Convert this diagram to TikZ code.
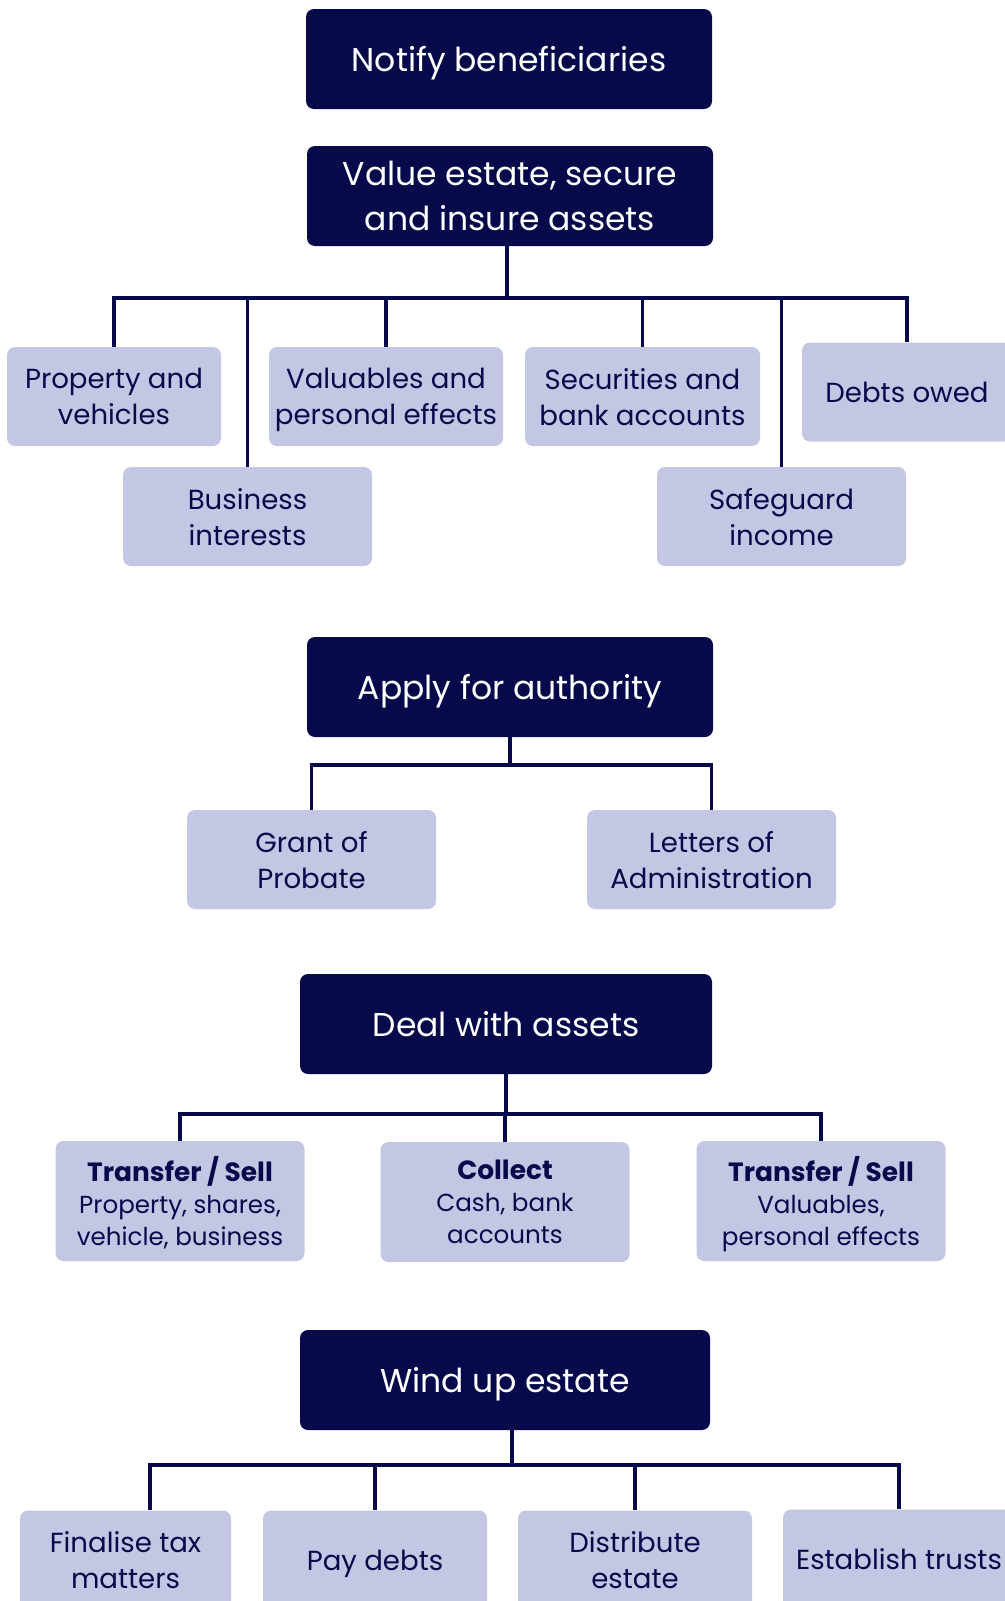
\documentclass[tikz,border=0pt]{standalone}
\usepackage{fontspec}
\setmainfont{Poppins}
\usepackage{tikz}

\definecolor{navy}{HTML}{060A4A}
\definecolor{lilac}{HTML}{C4C7E4}

\newcommand\headline[1]{{\fontsize{13.2}{17}\selectfont\bfseries #1}}

\tikzset{
  stage/.style={fill=navy, text=white, rounded corners=4pt, align=center,
    minimum width=203pt, minimum height=50pt, inner sep=0pt, text depth=0pt,
    font=\fontsize{16.5}{22.5}\selectfont},
  item/.style={fill=lilac, text=navy, rounded corners=4pt, align=center,
    minimum height=49.5pt, inner sep=0pt, text depth=0pt,
    font=\fontsize{13.8}{18}\selectfont},
  sub/.style={item, minimum height=60pt, minimum width=124.5pt,
    font=\fontsize{12.3}{16}\selectfont},
  link/.style={draw=navy, line width=1.6pt}
}

\begin{document}
\begin{tikzpicture}[x=0.5pt, y=-0.5pt]
	\useasboundingbox (0,0) rectangle (1005,1601);
	\clip (0,0) rectangle (1005,1601);
	% stages
	\node (notify) [stage] at (509,59) {Notify beneficiaries};
	\node (value) [stage] at (510,196) {Value estate, secure\\and insure assets};
	\node (apply) [stage] at (510,687) {Apply for authority};
	\node (deal) [stage, minimum width=206pt] at (506,1024) {Deal with assets};
	\node (wind) [stage, minimum width=205pt] at (505,1380) {Wind up estate};
	% assets to value
	\node (prop) [item, minimum width=107pt] at (114,396.5) {Property and\\vehicles};
	\node (biz) [item, minimum width=124.5pt] at (247.5,516.5) {Business\\interests};
	\node (valu) [item, minimum width=117pt] at (386,396.5) {Valuables and\\personal effects};
	\node (secu) [item, minimum width=117.5pt] at (642.5,396.5) {Securities and\\bank accounts};
	\node (safe) [item, minimum width=124.5pt] at (781.5,516.5) {Safeguard\\income};
	\node (debts) [item, minimum width=105pt] at (907,392) {Debts owed};
	% authority
	\node (grant) [item, minimum width=124.5pt] at (311.5,859.5) {Grant of\\Probate};
	\node (letters) [item, minimum width=124.5pt] at (711.5,859.5) {Letters of\\Administration};
	% dealing with assets
	\node (sell1) [sub] at (180,1201) {\headline{Transfer / Sell}\\Property, shares,\\vehicle, business};
	\node (collect) [sub] at (505,1202) {\headline{Collect}\\Cash, bank\\accounts};
	\node (sell2) [sub] at (821,1201) {\headline{Transfer / Sell}\\Valuables,\\personal effects};
	% winding up
	\node (tax) [item, minimum width=105.5pt] at (125.5,1560) {Finalise tax\\matters};
	\node (pay) [item, minimum width=112pt] at (375,1560) {Pay debts};
	\node (dist) [item, minimum width=117pt] at (635,1560) {Distribute\\estate};
	\node (trusts) [item, minimum width=116pt] at (899,1559) {Establish trusts};

	% bus lines
	\coordinate (bus1) at (0,298);
	\coordinate (bus2) at (0,765);
	\coordinate (bus3) at (0,1114);
	\coordinate (bus4) at (150,1465);

	\draw[link] ([xshift=-1.5pt]value.south) -- ([xshift=-1.5pt]value.south |- bus1);
	\draw[link] (prop.north) |- (debts.north |- bus1) -- (debts.north);
	\foreach \n in {biz,valu,secu,safe}
		\draw[link] (\n.north) -- (\n.north |- bus1);

	\draw[link] (apply.south) -- (apply.south |- bus2);
	\draw[link] (grant.north) |- (letters.north |- bus2) -- (letters.north);

	\draw[link] (deal.south) -- (deal.south |- bus3);
	\draw[link] (collect.north) -- (collect.north |- bus3);
	\draw[link] (sell1.north) |- (sell2.north |- bus3) -- (sell2.north);

	\draw[link] ([xshift=3.5pt]wind.south) -- ([xshift=3.5pt]wind.south |- bus4);
	\draw[link] (tax.north -| bus4) -- (bus4) -- (bus4 -| trusts.north) -- (trusts.north);
	\foreach \n in {pay,dist}
		\draw[link] (\n.north) -- (\n.north |- bus4);
\end{tikzpicture}
\end{document}
